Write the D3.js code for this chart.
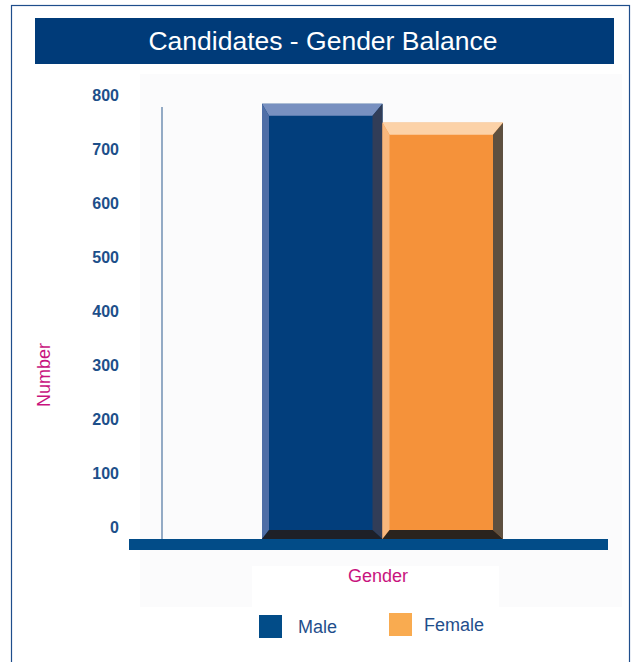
<!DOCTYPE html>
<html>
<head>
<meta charset="utf-8">
<script src="https://cdn.jsdelivr.net/npm/d3@7"></script>
<style>
  body { margin: 0; background: #fff; }
  text { font-family: "Liberation Sans", Arial, sans-serif; }
</style>
</head>
<body>
<svg id="chart" width="634" height="662"></svg>
<script>
// data
var genders = ["Male", "Female"];
var counts = [806, 771];
var yTicks = [0, 100, 200, 300, 400, 500, 600, 700, 800];
var faceColors = ["#023e7c", "#f5923a"];
var legendColors = ["#024c88", "#f9ab50"];

var svg = d3.select("#chart");

// outer frame
svg.append("rect")
    .attr("x", 11.5).attr("y", 5.5)
    .attr("width", 618).attr("height", 662)
    .attr("fill", "#fff")
    .attr("stroke", "#1f4e8c").attr("stroke-width", 1.2);

// title bar
svg.append("rect")
    .attr("x", 35).attr("y", 18)
    .attr("width", 579).attr("height", 46)
    .attr("fill", "#003b79");
svg.append("text")
    .attr("x", 323).attr("y", 50)
    .attr("text-anchor", "middle")
    .attr("fill", "#fff")
    .attr("font-size", 26.5)
    .text("Candidates - Gender Balance");

// faint plot panel
svg.append("rect")
    .attr("x", 140).attr("y", 74)
    .attr("width", 482).attr("height", 533)
    .attr("fill", "#fbfbfc");
svg.append("rect")
    .attr("x", 252).attr("y", 566)
    .attr("width", 247).attr("height", 41)
    .attr("fill", "#fff");

var y = d3.scaleLinear().domain([0, 800]).range([539, 107]);
var x = d3.scaleBand().domain(genders).range([262, 503]).padding(0);

// y tick labels
svg.append("g").selectAll("text")
    .data(yTicks)
    .enter().append("text")
    .attr("x", 119)
    .attr("y", function(d) { return y(d) - 12; })
    .attr("dy", "0.35em")
    .attr("text-anchor", "end")
    .attr("font-size", 16)
    .attr("font-weight", "bold")
    .attr("fill", "#1d4f8a")
    .text(function(d) { return d; });

// vertical axis line
svg.append("line")
    .attr("x1", 162).attr("x2", 162)
    .attr("y1", y(800)).attr("y2", y(0))
    .attr("stroke", "#5b7fa8").attr("stroke-width", 1.3);

// bevelled bars
var bevel = [
    { side: "top", fill: ["#7890c0", "#fcd2a8"] },
    { side: "left", fill: ["#4f6ea6", "#f9b77c"] },
    { side: "right", fill: ["#313d58", "#5e5040"] },
    { side: "bottom", fill: ["#1e2028", "#2a231d"] }
];
var bt = 12, bl = 7, br = 10, bb = 9;

var bars = svg.append("g").selectAll("g")
    .data(genders)
    .enter().append("g");

bars.each(function(g, i) {
    var x0 = x(g), x1 = x(g) + x.bandwidth();
    var y0 = y(counts[i]), y1 = y(0);
    var el = d3.select(this);
    el.append("rect")
        .attr("x", x0).attr("y", y0)
        .attr("width", x1 - x0).attr("height", y1 - y0)
        .attr("fill", faceColors[i]);
    var pts = {
        top: [[x0, y0], [x1, y0], [x1 - br, y0 + bt], [x0 + bl, y0 + bt]],
        left: [[x0, y0], [x0 + bl, y0 + bt], [x0 + bl, y1 - bb], [x0, y1]],
        right: [[x1, y0], [x1, y1], [x1 - br, y1 - bb], [x1 - br, y0 + bt]],
        bottom: [[x0, y1], [x0 + bl, y1 - bb], [x1 - br, y1 - bb], [x1, y1]]
    };
    bevel.forEach(function(b) {
        el.append("polygon")
            .attr("points", pts[b.side].map(function(p) { return p.join(","); }).join(" "))
            .attr("fill", b.fill[i]);
    });
});

// base bar
svg.append("rect")
    .attr("x", 129).attr("y", 539)
    .attr("width", 479).attr("height", 11)
    .attr("fill", "#024c88");

// axis titles
svg.append("text")
    .attr("transform", "translate(50,375) rotate(-90)")
    .attr("text-anchor", "middle")
    .attr("font-size", 18)
    .attr("fill", "#c8137e")
    .text("Number");
svg.append("text")
    .attr("x", 378).attr("y", 582)
    .attr("text-anchor", "middle")
    .attr("font-size", 18)
    .attr("fill", "#c8137e")
    .text("Gender");

// legend
var legendX = [259, 389], legendY = [615, 613], textX = [298, 424];
var legend = svg.append("g").selectAll("g")
    .data(genders)
    .enter().append("g");
legend.append("rect")
    .attr("x", function(d, i) { return legendX[i]; })
    .attr("y", function(d, i) { return legendY[i]; })
    .attr("width", 23).attr("height", 23)
    .attr("fill", function(d, i) { return legendColors[i]; });
legend.append("text")
    .attr("x", function(d, i) { return textX[i]; })
    .attr("y", function(d, i) { return legendY[i] + 18; })
    .attr("font-size", 18)
    .attr("fill", "#1f4e8c")
    .text(function(d) { return d; });
</script>
</body>
</html>
